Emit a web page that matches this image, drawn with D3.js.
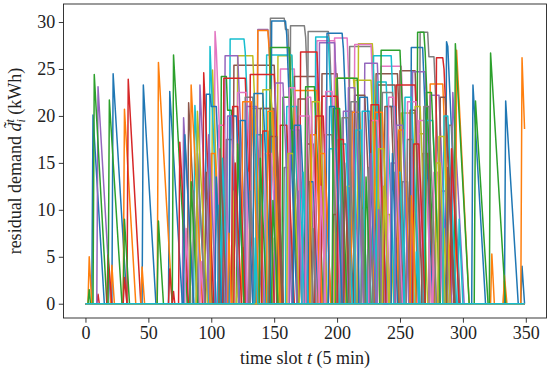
<!DOCTYPE html>
<html>
<head>
<meta charset="utf-8">
<script src="https://cdn.jsdelivr.net/npm/d3@7"></script>
<style>
  body { margin: 0; background: white; }
  text { font-family: "Liberation Serif", "DejaVu Serif", serif; }
</style>
</head>
<body>
<div id="chart"></div>
<script>
// residual demand of every EV, as [time slot, kWh] vertices (0 elsewhere)
// rows follow the colour cycle: blue, orange, green, red, purple, brown, pink, grey, olive, cyan
var row1 = [
    [[5,0],[6,20.1],[15,0]],
    [[2,0],[3,5.0],[5,0]],
    [[2,0],[3,1.5],[4,0]],
    [[9,0],[10,1.0],[11,0]],
    [[9,0],[10,23.1],[20,0]],
    [[81,0],[82,21.4],[90,0]],
    [[102,0],[103,29.0],[104,27.0],[112,0]],
    [[146,0],[147,30.4],[158,30.4],[159,29.2],[161,29.2],[169,0]],
    [[100,0],[101,24.9],[108,0]],
    [[86,0],[87,21.1],[95,0]]
];
var row2 = [
    [[21,0],[22,24.5],[33,0]],
    [[20,0],[21,4.1],[23,0]],
    [[6,0],[7,24.4],[17,0]],
    [[17,0],[18,5.2],[21,0]],
    [[77,0],[78,19.8],[86,0]],
    [[117,0],[118,25.4],[150,25.4],[157,0]],
    [[154,0],[155,25.0],[166,25.0],[173,0]],
    [[162,0],[163,29.6],[174,29.6],[175,28.4],[183,0]],
    [[120,0],[121,26.4],[133,26.4],[141,0]],
    [[98,0],[99,27.4],[107,0]]
];
var row3 = [
    [[45,0],[46,23.3],[56,0]],
    [[30,0],[31,20.7],[40,0]],
    [[18,0],[19,21.7],[29,0]],
    [[33,0],[34,23.9],[44,0]],
    [[90,0],[91,23.3],[99,0]],
    [[165,0],[166,24.2],[184,24.2],[191,0]],
    [[183,0],[184,28.0],[198,28.0],[206,0]],
    [[176,0],[177,29.0],[193,29.0],[194,27.8],[202,0]],
    [[152,0],[153,26.4],[164,26.4],[172,0]],
    [[114,0],[115,28.2],[126,28.2],[127,26.8],[135,0]]
];
var row4 = [
    [[66,0],[67,22.6],[77,0]],
    [[44,0],[45,3.9],[47,0]],
    [[30,0],[31,9.0],[35,0]],
    [[30,0],[31,2.8],[33,0]],
    [[110,0],[111,26.4],[121,26.4],[129,0]],
    [[187,0],[188,24.5],[200,24.5],[207,0]],
    [[197,0],[198,28.3],[208,28.3],[216,0]],
    [[209,0],[210,27.4],[228,27.4],[236,0]],
    [[216,0],[217,27.7],[228,27.7],[236,0]],
    [[143,0],[144,26.5],[164,26.5],[172,0]]
];
var row5 = [
    [[95,0],[96,22.3],[99,22.3],[100,21.0],[104,21.0],[110,0]],
    [[57,0],[58,25.7],[69,0]],
    [[57,0],[58,8.8],[62,0]],
    [[66,0],[67,3.7],[69,0]],
    [[136,0],[137,29.2],[145,29.2],[146,27.6],[154,0]],
    [[230,0],[231,24.5],[248,24.5],[255,0]],
    [[213,0],[214,27.6],[227,27.6],[235,0]],
    [[265,0],[266,28.9],[272,28.9],[273,26.3],[277,26.3],[285,0]],
    [[250,0],[251,20.3],[263,20.3],[264,18.1],[270,18.1],[275,0]],
    [[182,0],[183,28.4],[193,28.4],[201,0]]
];
var row6 = [
    [[147,0],[148,30.1],[159,30.1],[160,28.6],[168,0]],
    [[83,0],[84,23.3],[93,0]],
    [[69,0],[70,26.5],[81,0]],
    [[69,0],[70,1.3],[71,0]],
    [[185,0],[186,27.8],[198,27.8],[206,0]],
    [[249,0],[250,24.8],[262,24.8],[269,0]],
    [[234,0],[235,25.3],[251,25.3],[258,0]],
    [[131,0],[132,20.8],[149,20.8],[155,0]],
    [[198,0],[199,24.0],[213,24.0],[214,22.5],[221,0]],
    [[228,0],[229,26.4],[243,26.4],[251,0]]
];
var row7 = [
    [[191,0],[192,28.8],[204,28.8],[205,27.2],[213,0]],
    [[136,0],[137,29.1],[145,29.1],[146,27.0],[154,0]],
    [[107,0],[108,24.2],[112,24.2],[113,20.6],[116,20.6],[122,0]],
    [[74,0],[75,17.2],[82,0]],
    [[221,0],[222,25.6],[232,25.6],[239,0]],
    [[231,0],[232,23.3],[246,23.3],[253,0]],
    [[79,0],[80,8.0],[83,0]],
    [[85,0],[86,12.0],[90,0]],
    [[213,0],[214,23.8],[227,23.8],[234,0]],
    [[231,0],[232,23.6],[239,23.6],[246,0]]
];
var row8 = [
    [[258,0],[259,27.3],[268,27.3],[276,0]],
    [[165,0],[166,22.7],[184,22.7],[191,0]],
    [[146,0],[147,27.3],[162,27.3],[170,0]],
    [[93,0],[94,24.6],[102,0]],
    [[259,0],[260,24.7],[270,24.7],[277,0]],
    [[213,0],[214,22.2],[222,22.2],[229,0]],
    [[105,0],[106,19.0],[110,19.0],[116,0]],
    [[111,0],[112,17.5],[117,17.5],[122,0]],
    [[332,0],[333,2.4],[334,0]],
    [[105,0],[106,10.5],[109,0]]
];
var row9 = [
    [[286,0],[287,27.9],[288,27.4],[297,0]],
    [[273,0],[274,23.4],[284,23.4],[291,0]],
    [[174,0],[175,23.1],[182,23.1],[189,0]],
    [[109,0],[110,24.0],[127,24.0],[134,0]],
    [[273,0],[274,22.2],[281,22.2],[288,0]],
    [[95,0],[96,14.0],[101,0]],
    [[120,0],[121,22.5],[128,22.5],[135,0]],
    [[126,0],[127,22.0],[133,22.0],[140,0]],
    [[117,0],[118,12.0],[122,0]],
    [[135,0],[136,18.0],[140,18.0],[145,0]]
];
var row10 = [
    [[307,0],[308,23.3],[318,0]],
    [[322,0],[323,5.3],[325,0]],
    [[199,0],[200,24.0],[216,24.0],[223,0]],
    [[170,0],[171,26.8],[184,26.8],[192,0]],
    [[291,0],[292,22.5],[301,0]],
    [[138,0],[139,20.8],[150,20.8],[156,0]],
    [[142,0],[143,16.0],[148,16.0],[153,0]],
    [[157,0],[158,14.5],[161,14.5],[165,0]],
    [[149,0],[150,7.0],[152,0]],
    [[159,0],[160,21.0],[168,21.0],[174,0]]
];
var row11 = [
    [[333,0],[334,21.6],[344,0]],
    [[332,0],[333,3.0],[335,0]],
    [[234,0],[235,27.0],[250,27.0],[258,0]],
    [[187,0],[188,22.1],[200,22.1],[207,0]],
    [[127,0],[128,21.0],[136,21.0],[142,0]],
    [[175,0],[176,17.0],[181,17.0],[186,0]],
    [[169,0],[170,20.0],[178,20.0],[184,0]],
    [[189,0],[190,18.0],[196,18.0],[201,0]],
    [[179,0],[180,21.5],[186,21.5],[192,0]],
    [[193,0],[194,16.5],[199,16.5],[204,0]]
];
var row12 = [
    [[346,0],[347,4.0],[349,0]],
    [[294,0],[295,27.0],[305,0]],
    [[263,0],[264,28.9],[269,28.9],[270,26.8],[278,0]],
    [[246,0],[247,23.3],[262,23.3],[269,0]],
    [[162,0],[163,18.5],[170,18.5],[175,0]],
    [[267,0],[268,16.0],[272,16.0],[277,0]],
    [[225,0],[226,19.5],[232,19.5],[238,0]],
    [[235,0],[236,22.5],[244,22.5],[251,0]],
    [[239,0],[240,9.5],[242,9.5],[245,0]],
    [[219,0],[220,20.5],[226,20.5],[232,0]]
];
var row13 = [
    [[114,0],[115,20.0],[120,20.0],[126,0]],
    [[346,0],[347,26.2],[349,18.6]],
    [[293,0],[294,27.7],[305,0]],
    [[278,0],[279,26.2],[284,26.2],[285,25.0],[293,0]],
    [[204,0],[205,20.5],[212,20.5],[218,0]],
    [[124,0],[125,6.0],[127,0]],
    [[255,0],[256,21.5],[263,21.5],[269,0]],
    [[251,0],[252,13.0],[256,13.0],[260,0]],
    [[261,0],[262,21.0],[266,21.0],[272,0]],
    [[245,0],[246,14.0],[250,14.0],[254,0]]
];
var row14 = [
    [[177,0],[178,13.0],[181,13.0],[185,0]],
    [[99,0],[100,16.0],[103,16.0],[108,0]],
    [[309,0],[310,21.6],[320,0]],
    [[130,0],[131,24.4],[150,24.4],[157,0]],
    [[242,0],[243,15.0],[248,15.0],[252,0]],
    [[196,0],[197,9.5],[200,9.5],[203,0]],
    [[276,0],[277,14.0],[280,14.0],[284,0]],
    [[288,0],[289,19.0],[291,19.0],[298,0]],
    [[284,0],[285,8.0],[288,0]],
    [[269,0],[270,19.5],[276,19.5],[282,0]]
];
var row15 = [
    [[239,0],[240,21.0],[246,21.0],[252,0]],
    [[211,0],[212,20.4],[218,20.4],[224,0]],
    [[321,0],[322,26.7],[334,0]],
    [[154,0],[155,19.0],[160,19.0],[166,0]],
    [[282,0],[283,12.0],[286,12.0],[290,0]],
    [[281,0],[282,22.0],[286,22.0],[294,0]],
    [[91,0],[92,4.5],[94,0]],
    [[219,0],[220,10.0],[223,0]],
    [[207,0],[208,12.5],[211,12.5],[215,0]],
    [[296,0],[297,9.0],[300,0]]
];
var row16 = [
    [[78,0],[79,18.0],[86,0]],
    [[124,0],[125,21.5],[132,21.5],[138,0]],
    [[156,0],[157,22.0],[163,22.0],[169,0]],
    [[182,0],[183,20.0],[189,20.0],[195,0]],
    [[208,0],[209,23.0],[214,23.0],[221,0]],
    [[237,0],[238,21.0],[243,21.0],[249,0]],
    [[264,0],[265,19.5],[269,19.5],[275,0]],
    [[88,0],[89,16.0],[95,0]],
    [[140,0],[141,22.8],[147,22.8],[148,21.0],[154,0]],
    [[202,0],[203,17.0],[207,17.0],[212,0]]
];
var row17 = [
    [[133,0],[134,22.4],[141,22.4],[148,0]],
    [[229,0],[230,20.4],[236,20.4],[242,0]],
    [[83,0],[84,13.0],[89,0]],
    [[116,0],[117,21.0],[121,21.0],[127,0]],
    [[150,0],[151,23.5],[157,23.5],[164,0]],
    [[168,0],[169,21.8],[175,21.8],[181,0]],
    [[190,0],[191,22.6],[196,22.6],[203,0]],
    [[255,0],[256,17.5],[260,17.5],[265,0]],
    [[278,0],[279,15.0],[282,15.0],[286,0]],
    [[108,0],[109,15.5],[113,0]]
];
var row18 = [
    [[217,0],[218,22.0],[224,22.0],[231,0]],
    [[248,0],[249,18.5],[253,18.5],[258,0]],
    [[120,0],[121,17.0],[126,0]],
    [[226,0],[227,21.2],[233,21.2],[239,0]],
    [[97,0],[98,18.0],[104,0]],
    [[146,0],[147,17.8],[152,17.8],[157,0]],
    [[161,0],[162,23.0],[166,23.0],[173,0]],
    [[203,0],[204,19.8],[209,19.8],[215,0]],
    [[232,0],[233,16.5],[237,16.5],[242,0]],
    [[284,0],[285,20.0],[288,20.0],[295,0]]
];
var row19 = [
    [[103,0],[104,13.5],[108,0]],
    [[185,0],[186,16.0],[190,16.0],[195,0]],
    [[270,0],[271,22.5],[275,22.5],[282,0]],
    [[140,0],[141,18.4],[145,18.4],[150,0]],
    [[168,0],[169,12.0],[172,0]],
    [[257,0],[258,20.6],[262,20.6],[268,0]],
    [[128,0],[129,14.0],[133,0]],
    [[224,0],[225,14.5],[229,0]],
    [[88,0],[89,20.5],[97,0]],
    [[253,0],[254,22.0],[259,22.0],[266,0]]
];
var row20 = [
    [[243,0],[244,16.0],[248,0]],
    [[113,0],[114,7.5],[116,0]],
    [[196,0],[197,20.8],[202,20.8],[208,0]],
    [[290,0],[291,16.5],[297,0]],
    [[232,0],[233,10.0],[236,0]],
    [[152,0],[153,9.0],[156,0]],
    [[276,0],[277,6.0],[279,0]],
    [[180,0],[181,8.0],[183,0]],
    [[120,0],[121,3.5],[122,0]],
    [[262,0],[263,5.5],[265,0]]
];
var row21 = [
    [[122,0],[123,19.5],[127,19.5],[133,0]],
    [[178,0],[179,18.0],[183,18.0],[188,0]],
    [[138,0],[139,15.5],[144,0]],
    [[200,0],[201,17.5],[205,17.5],[210,0]],
    [[246,0],[247,19.0],[252,19.0],[257,0]],
    [[106,0],[107,16.5],[112,0]],
    [[186,0],[187,12.5],[191,0]],
    [[268,0],[269,21.0],[273,21.0],[279,0]],
    [[160,0],[161,16.0],[165,16.0],[170,0]],
    [[214,0],[215,18.5],[219,18.5],[224,0]]
];
var row22 = [
    [[165,0],[166,19.0],[171,19.0],[177,0]],
    [[144,0],[145,20.5],[149,20.5],[155,0]],
    [[222,0],[223,13.5],[227,0]],
    [[260,0],[261,17.0],[265,17.0],[270,0]],
    [[112,0],[113,20.0],[116,20.0],[122,0]],
    [[205,0],[206,15.0],[210,0]],
    [[240,0],[241,22.0],[245,22.0],[252,0]],
    [[130,0],[131,12.0],[135,0]],
    [[280,0],[281,17.8],[285,17.8],[290,0]],
    [[172,0],[173,14.0],[177,0]]
];
var row23 = [
    [[193,0],[194,21.0],[198,21.0],[204,0]],
    [[258,0],[259,11.5],[263,0]],
    [[148,0],[149,11.0],[153,0]],
    [[118,0],[119,15.0],[124,0]],
    [[226,0],[227,16.0],[231,0]],
    [[287,0],[288,14.5],[293,0]],
    [[175,0],[176,22.0],[179,22.0],[186,0]],
    [[210,0],[211,21.5],[216,21.5],[222,0]],
    [[236,0],[237,12.5],[241,0]],
    [[134,0],[135,7.0],[137,0]]
];

var evs = [].concat(row1, row2, row3, row4, row5, row6, row7, row8, row9, row10,
    row11, row12, row13, row14, row15, row16, row17, row18, row19, row20,
    row21, row22, row23);

var timeSlots = [0, 349];
var xTicks = [0, 50, 100, 150, 200, 250, 300, 350];
var yTicks = [0, 5, 10, 15, 20, 25, 30];

var width = 550, height = 375;
var margin = { top: 4, right: 3.5, bottom: 57, left: 63.5 };
var w = width - margin.left - margin.right,
    h = height - margin.top - margin.bottom;

var svg = d3.select("#chart")
    .append("svg")
    .attr("width", width)
    .attr("height", height);

svg.append("rect")
    .attr("width", width)
    .attr("height", height)
    .attr("fill", "white");

var g = svg.append("g")
    .attr("transform", "translate(" + margin.left + "," + margin.top + ")");

// matplotlib style 5% margins
var yMax = d3.max(evs, function(ev) { return d3.max(ev, function(p) { return p[1]; }); });
var padX = (timeSlots[1] - timeSlots[0]) * 0.05;
var padY = yMax * 0.05;

var x = d3.scaleLinear()
    .domain([timeSlots[0] - padX, timeSlots[1] + padX])
    .range([0, w]);

var y = d3.scaleLinear()
    .domain([-padY, yMax + padY])
    .range([h, 0]);

g.append("clipPath").attr("id", "clip")
    .append("rect").attr("width", w).attr("height", h);

var line = d3.line()
    .x(function(d) { return x(d[0]); })
    .y(function(d) { return y(d[1]); });

var lines = g.append("g").attr("clip-path", "url(#clip)");

evs.forEach(function(ev, i) {
    var pts = ev.slice();
    if (pts[0][0] > timeSlots[0]) pts.unshift([timeSlots[0], 0]);
    if (pts[pts.length - 1][0] < timeSlots[1]) pts.push([timeSlots[1], 0]);
    lines.append("path")
        .attr("d", line(pts))
        .attr("fill", "none")
        .attr("stroke", d3.schemeCategory10[i % 10])
        .attr("stroke-width", 1.5)
        .attr("stroke-linejoin", "round");
});

// axes
var xAxis = g.append("g")
    .attr("transform", "translate(0," + h + ")")
    .call(d3.axisBottom(x).tickValues(xTicks).tickSize(4.7).tickPadding(4));
var yAxis = g.append("g")
    .call(d3.axisLeft(y).tickValues(yTicks).tickSize(4.7).tickPadding(3.5));

[xAxis, yAxis].forEach(function(a) {
    a.select(".domain").remove();
    a.selectAll("line").attr("stroke", "#222").attr("stroke-width", 0.9);
    a.selectAll("text")
        .attr("fill", "#222")
        .style("font-size", "18px")
        .style("font-family", "'Liberation Serif', 'DejaVu Serif', serif");
});

// frame
g.append("rect")
    .attr("width", w)
    .attr("height", h)
    .attr("fill", "none")
    .attr("stroke", "#222")
    .attr("stroke-width", 0.9);

// x label
var xl = svg.append("text")
    .attr("x", margin.left + w / 2)
    .attr("y", 364)
    .attr("text-anchor", "middle")
    .attr("fill", "#222")
    .style("font-size", "18px");
xl.append("tspan").text("time slot ");
xl.append("tspan").style("font-style", "italic").text("t");
xl.append("tspan").text(" (5 min)");

// y label
var yl = svg.append("text")
    .attr("transform", "translate(21," + (margin.top + h / 2) + ") rotate(-90)")
    .attr("text-anchor", "middle")
    .attr("fill", "#222")
    .style("font-size", "18px");
yl.append("tspan").text("residual demand ");
yl.append("tspan").style("font-style", "italic").text("d\u0303");
yl.append("tspan").style("font-style", "italic").style("font-size", "12px").attr("dy", -7).text("t");
yl.append("tspan").style("font-style", "italic").style("font-size", "12px").attr("dx", -3.4).attr("dy", 11).text("i");
yl.append("tspan").attr("dy", -4).text(" (kWh)");
</script>
</body>
</html>
